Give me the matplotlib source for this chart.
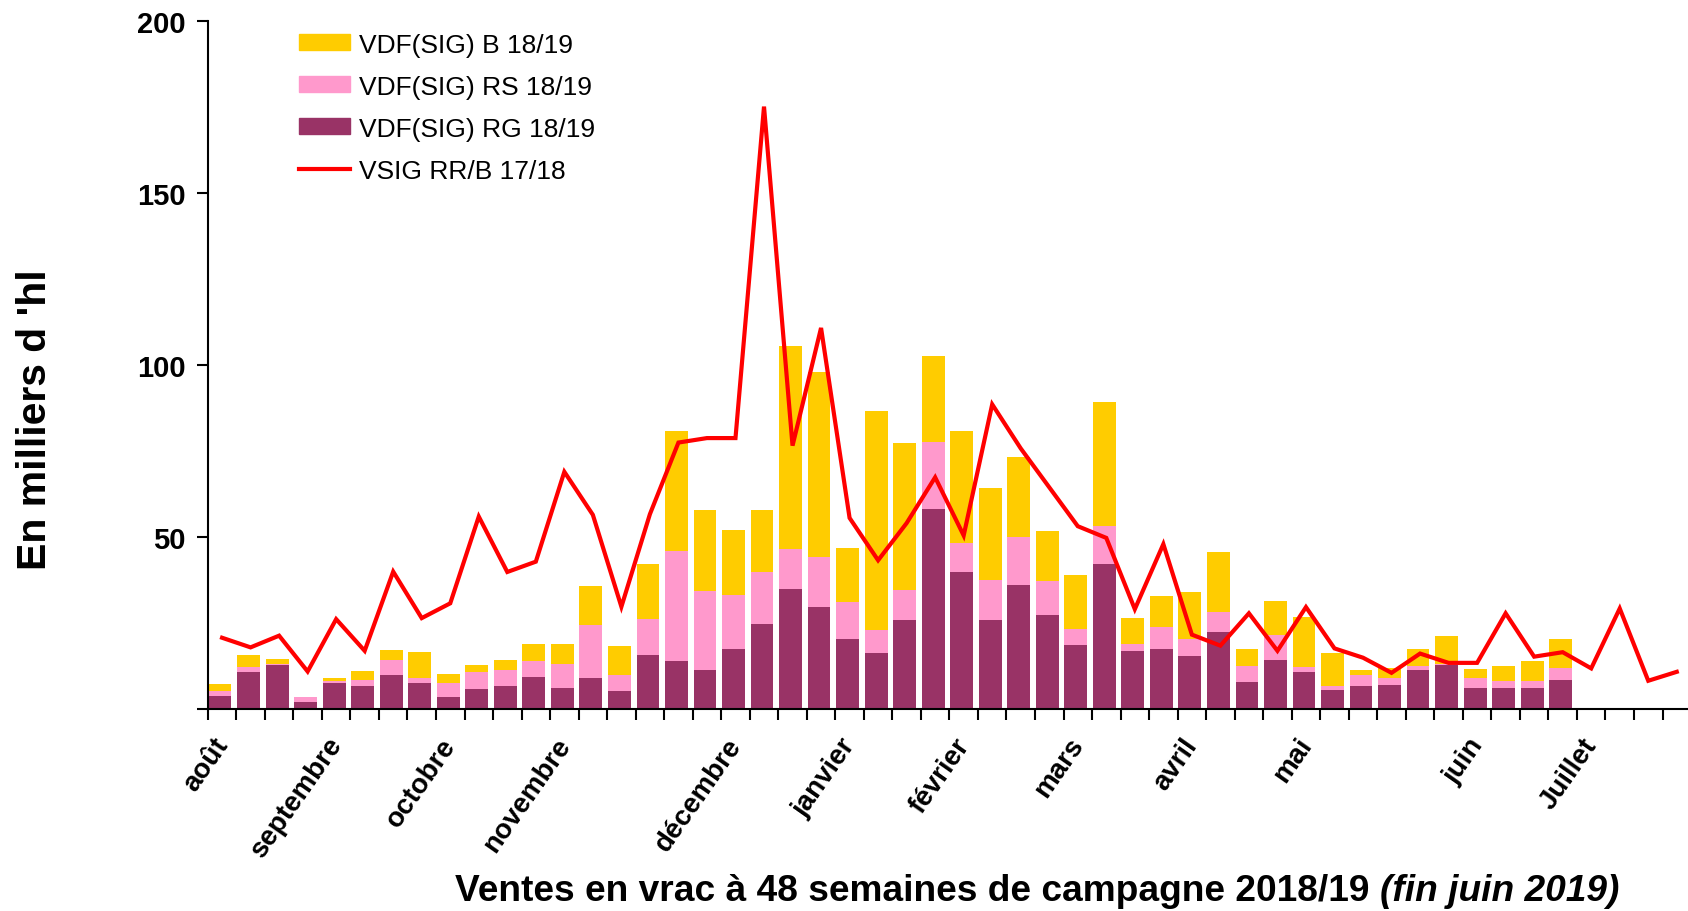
import matplotlib
matplotlib.use("Agg")
import matplotlib.pyplot as plt
from matplotlib.patches import Patch
from matplotlib.lines import Line2D
import numpy as np

plt.rcParams['font.family'] = ['Liberation Sans', 'DejaVu Sans']

# weekly bulk sales, thousands of hl (48 weeks of campaign 2018/19)
rg_1819 = [3.8, 10.7, 12.9, 2.0, 7.6, 6.7, 10.0, 7.6, 3.6, 5.8, 6.7, 9.3,
           6.1, 9.0, 5.2, 15.7, 13.9, 11.2, 17.3, 24.8, 35.0, 29.5, 20.4, 16.4,
           25.8, 58.1, 39.7, 25.8, 35.9, 27.4, 18.5, 42.0, 16.8, 17.4, 15.5, 22.4,
           7.8, 14.2, 10.7, 5.5, 6.7, 7.0, 11.3, 12.9, 6.1, 6.1, 6.1, 8.4]
rs_1819 = [1.4, 1.6, 0.2, 1.5, 0.4, 1.6, 4.2, 1.4, 4.0, 4.9, 4.6, 4.6,
           7.0, 15.5, 4.6, 10.4, 32.1, 23.1, 15.8, 15.0, 11.4, 14.6, 10.8, 6.5,
           8.8, 19.5, 8.4, 11.6, 14.2, 9.8, 4.7, 11.3, 2.1, 6.5, 4.9, 5.8,
           4.7, 7.3, 1.6, 1.2, 3.3, 2.0, 1.2, 0.2, 2.8, 2.0, 2.0, 3.4]
b_1819 = [2.1, 3.4, 1.4, 0.0, 1.0, 2.7, 2.9, 7.5, 2.6, 2.1, 2.9, 5.0,
          5.8, 11.2, 8.4, 16.0, 34.8, 23.4, 18.8, 17.9, 59.1, 53.8, 15.7, 63.7,
          42.6, 24.9, 32.7, 26.7, 23.1, 14.5, 15.6, 35.9, 7.5, 8.9, 13.6, 17.4,
          4.9, 9.9, 14.5, 9.6, 1.3, 2.8, 4.9, 8.1, 2.7, 4.4, 5.8, 8.5]
# previous campaign, 52 weeks
vsig_1718 = [20.7, 17.9, 21.3, 10.9, 26.1, 16.9, 39.9, 26.4, 30.7, 55.9, 39.8, 42.8,
             68.9, 56.4, 29.7, 56.6, 77.4, 78.7, 78.7, 175.0, 76.5, 110.7, 55.5, 43.2,
             54.0, 67.3, 50.4, 88.5, 75.7, 64.4, 53.1, 49.7, 29.0, 47.9, 21.6, 18.4,
             27.8, 16.9, 29.6, 17.6, 14.9, 10.5, 16.1, 13.4, 13.4, 27.8, 15.2, 16.5,
             11.8, 29.2, 8.2, 10.8]

months = ['août', 'septembre', 'octobre', 'novembre', 'décembre', 'janvier',
          'février', 'mars', 'avril', 'mai', 'juin', 'Juillet']
month_weeks = [0, 4, 8, 12, 18, 22, 26, 30, 34, 38, 44, 48]

C_B = '#FFCC00'
C_RS = '#FF99CC'
C_RG = '#993366'
C_LINE = '#FF0000'

fig = plt.figure(figsize=(16.88, 9.12), dpi=100)
ax = fig.add_axes([0.1231, 0.2215, 0.8787, 0.7549])

n = len(rg_1819)
xb = np.arange(n) + 0.43
rg = np.array(rg_1819)
rs = np.array(rs_1819)
b = np.array(b_1819)
ax.bar(xb, rg, width=0.8, color=C_RG, zorder=2)
ax.bar(xb, rs, width=0.8, bottom=rg, color=C_RS, zorder=2)
ax.bar(xb, b, width=0.8, bottom=rg + rs, color=C_B, zorder=2)

xl = np.arange(len(vsig_1718)) + 0.5
ax.plot(xl, vsig_1718, color=C_LINE, lw=3, zorder=3, solid_joinstyle='miter')

ax.set_xlim(0, 52)
ax.set_ylim(0, 200)
ax.set_yticks([0, 50, 100, 150, 200])
ax.set_yticklabels(['', '50', '100', '150', '200'], fontsize=21, fontweight='bold')
ax.tick_params(axis='y', direction='out', length=8, width=1.5, pad=8)

ax.set_xticks(np.arange(53))
ax.set_xticklabels([])
ax.tick_params(axis='x', which='major', direction='out', length=8, width=1.5)
ax.set_xticks(np.array(month_weeks) + 0.15, minor=True)
ax.set_xticklabels(months, minor=True, rotation=55, ha='right', va='top',
                   rotation_mode='anchor', fontsize=20, fontweight='bold')
ax.tick_params(axis='x', which='minor', length=0, pad=17)

for s in ['top', 'right']:
    ax.spines[s].set_visible(False)
for s in ['left', 'bottom']:
    ax.spines[s].set_linewidth(1.5)

fig.text(0.021, 0.54, "En milliers d 'hl", rotation=90, ha='center', va='center',
         fontsize=29.5, fontweight='bold')

# x label: bold part followed by bold italic part
t1 = fig.text(455 / 1688, 11 / 912, 'Ventes en vrac à 48 semaines de campagne 2018/19 ',
              ha='left', va='baseline', fontsize=26.7, fontweight='bold')
fig.canvas.draw()
bb = t1.get_window_extent(renderer=fig.canvas.get_renderer())
fig.text(bb.x1 / fig.bbox.width, 11 / 912, '(fin juin 2019)', ha='left', va='baseline',
         fontsize=26.7, fontweight='bold', style='italic')

handles = [Patch(color=C_B), Patch(color=C_RS), Patch(color=C_RG),
           Line2D([], [], color=C_LINE, lw=3)]
labels = ['VDF(SIG) B 18/19', 'VDF(SIG) RS 18/19', 'VDF(SIG) RG 18/19',
          'VSIG RR/B 17/18']
fig.legend(handles, labels, loc='upper left', bbox_to_anchor=(0.177, 0.963),
           frameon=False, fontsize=19, borderpad=0, borderaxespad=0,
           handlelength=1.95, handleheight=0.55, handletextpad=0.35,
           labelspacing=0.68)

fig.savefig('out.png', dpi=100)
